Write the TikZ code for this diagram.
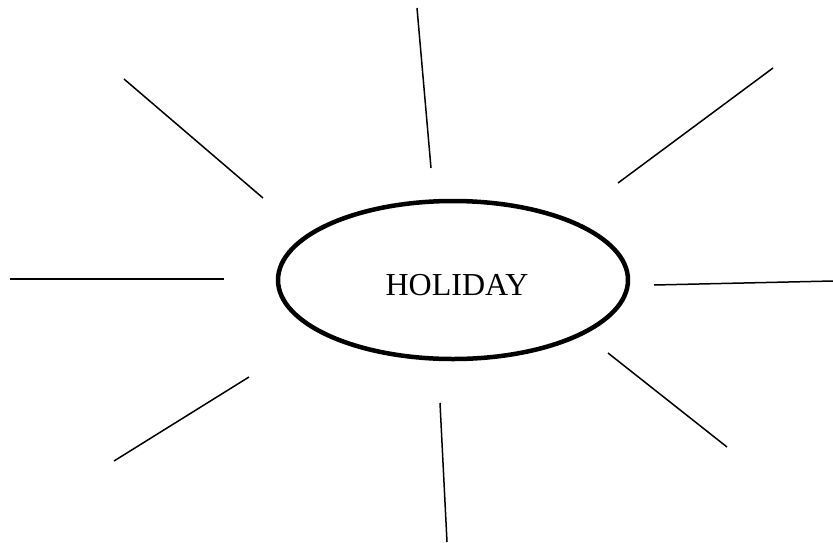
\documentclass[tikz,border=0pt]{standalone}
\usepackage{fontspec}
\setmainfont{Liberation Serif}
\usetikzlibrary{shapes.geometric}
\begin{document}
\begin{tikzpicture}[x=1pt,y=-1pt,
  ray/.style={line width=1.5pt, black},
  hub/.style={ellipse, draw, line width=4.5pt, minimum width=350pt, minimum height=158pt, inner sep=0pt},
  hubtext/.style={inner sep=0pt, font=\fontsize{32}{36}\selectfont}]
\useasboundingbox (0,0) rectangle (833,542);
\node[hub] (h) at (453,280) {};
\node[hubtext] (t) at (457,285) {HOLIDAY};
\coordinate (a1) at (417,8);   \coordinate (b1) at (431,168);
\coordinate (a2) at (773,68);  \coordinate (b2) at (618,183);
\coordinate (a3) at (654,285); \coordinate (b3) at (833,281);
\coordinate (a4) at (608,353); \coordinate (b4) at (727,447);
\coordinate (a5) at (440,403); \coordinate (b5) at (447,542);
\coordinate (a6) at (249,377); \coordinate (b6) at (114,461);
\coordinate (a7) at (10,279);  \coordinate (b7) at (224,279);
\coordinate (a8) at (124,79);  \coordinate (b8) at (263,198);
\foreach \i in {1,...,8} {\draw[ray] (a\i) -- (b\i);}
\end{tikzpicture}
\end{document}
